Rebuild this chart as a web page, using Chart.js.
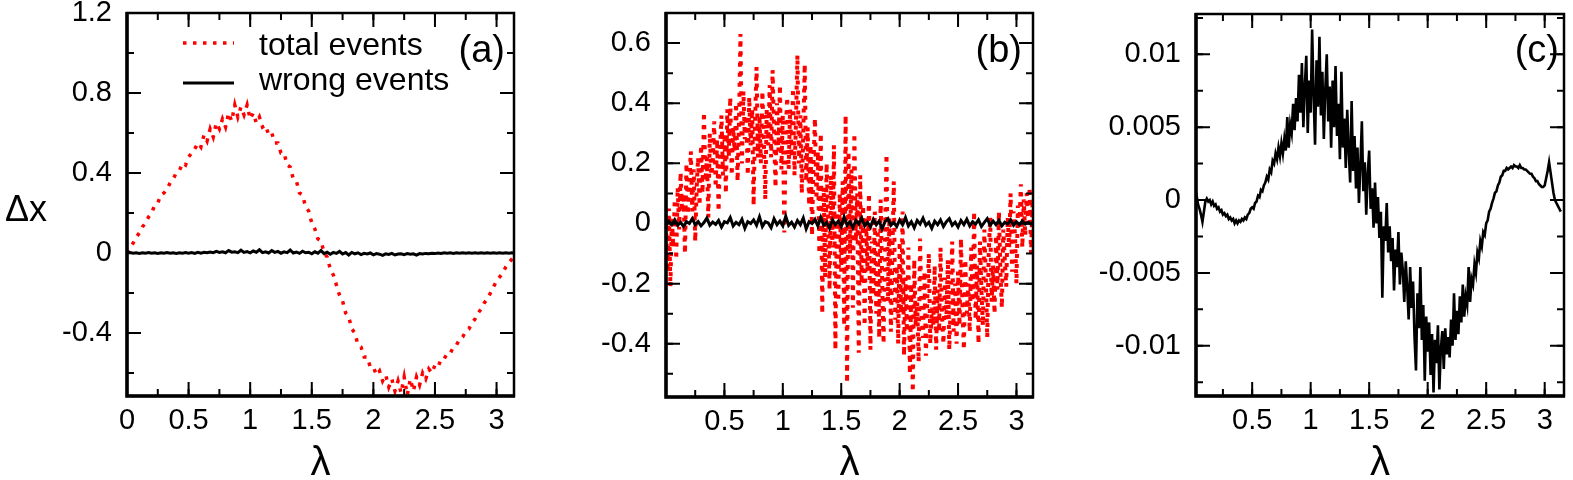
<!DOCTYPE html>
<html>
<head>
<meta charset="utf-8">
<script src="https://cdn.jsdelivr.net/npm/chart.js@4.4.1/dist/chart.umd.min.js"></script>
<style>
  html, body { margin: 0; padding: 0; background: #fff; }
  #wrap { position: relative; width: 1573px; height: 480px; overflow: hidden; }
  canvas { position: absolute; top: 0; }
</style>
</head>
<body>
<div id="wrap">
  <canvas id="chartA" width="530" height="480" style="left:0px"></canvas>
  <canvas id="chartB" width="520" height="480" style="left:530px"></canvas>
  <canvas id="chartC" width="523" height="480" style="left:1050px"></canvas>
</div>
<script>
/* =====================================
   DATA
===================================== */

// coarse lambda grid (step 0.025)
const lam = [
  0, 0.025, 0.05, 0.075, 0.1, 0.125, 0.15, 0.175, 0.2, 0.225,
  0.25, 0.275, 0.3, 0.325, 0.35, 0.375, 0.4, 0.425, 0.45, 0.475,
  0.5, 0.525, 0.55, 0.575, 0.6, 0.625, 0.65, 0.675, 0.7, 0.725,
  0.75, 0.775, 0.8, 0.825, 0.85, 0.875, 0.9, 0.925, 0.95, 0.975,
  1.0, 1.025, 1.05, 1.075, 1.1, 1.125, 1.15, 1.175, 1.2, 1.225,
  1.25, 1.275, 1.3, 1.325, 1.35, 1.375, 1.4, 1.425, 1.45, 1.475,
  1.5, 1.525, 1.55, 1.575, 1.6, 1.625, 1.65, 1.675, 1.7, 1.725,
  1.75, 1.775, 1.8, 1.825, 1.85, 1.875, 1.9, 1.925, 1.95, 1.975,
  2.0, 2.025, 2.05, 2.075, 2.1, 2.125, 2.15, 2.175, 2.2, 2.225,
  2.25, 2.275, 2.3, 2.325, 2.35, 2.375, 2.4, 2.425, 2.45, 2.475,
  2.5, 2.525, 2.55, 2.575, 2.6, 2.625, 2.65, 2.675, 2.7, 2.725,
  2.75, 2.775, 2.8, 2.825, 2.85, 2.875, 2.9, 2.925, 2.95, 2.975,
  3.0, 3.025, 3.05, 3.075, 3.1, 3.125, 3.14
];

// fine lambda grid (step 0.0125) for the noisiest curves
const lamFine = [
  0, 0.0125, 0.025, 0.0375, 0.05, 0.0625, 0.075, 0.0875,
  0.1, 0.1125, 0.125, 0.1375, 0.15, 0.1625, 0.175, 0.1875,
  0.2, 0.2125, 0.225, 0.2375, 0.25, 0.2625, 0.275, 0.2875,
  0.3, 0.3125, 0.325, 0.3375, 0.35, 0.3625, 0.375, 0.3875,
  0.4, 0.4125, 0.425, 0.4375, 0.45, 0.4625, 0.475, 0.4875,
  0.5, 0.5125, 0.525, 0.5375, 0.55, 0.5625, 0.575, 0.5875,
  0.6, 0.6125, 0.625, 0.6375, 0.65, 0.6625, 0.675, 0.6875,
  0.7, 0.7125, 0.725, 0.7375, 0.75, 0.7625, 0.775, 0.7875,
  0.8, 0.8125, 0.825, 0.8375, 0.85, 0.8625, 0.875, 0.8875,
  0.9, 0.9125, 0.925, 0.9375, 0.95, 0.9625, 0.975, 0.9875,
  1.0, 1.0125, 1.025, 1.0375, 1.05, 1.0625, 1.075, 1.0875,
  1.1, 1.1125, 1.125, 1.1375, 1.15, 1.1625, 1.175, 1.1875,
  1.2, 1.2125, 1.225, 1.2375, 1.25, 1.2625, 1.275, 1.2875,
  1.3, 1.3125, 1.325, 1.3375, 1.35, 1.3625, 1.375, 1.3875,
  1.4, 1.4125, 1.425, 1.4375, 1.45, 1.4625, 1.475, 1.4875,
  1.5, 1.5125, 1.525, 1.5375, 1.55, 1.5625, 1.575, 1.5875,
  1.6, 1.6125, 1.625, 1.6375, 1.65, 1.6625, 1.675, 1.6875,
  1.7, 1.7125, 1.725, 1.7375, 1.75, 1.7625, 1.775, 1.7875,
  1.8, 1.8125, 1.825, 1.8375, 1.85, 1.8625, 1.875, 1.8875,
  1.9, 1.9125, 1.925, 1.9375, 1.95, 1.9625, 1.975, 1.9875,
  2.0, 2.0125, 2.025, 2.0375, 2.05, 2.0625, 2.075, 2.0875,
  2.1, 2.1125, 2.125, 2.1375, 2.15, 2.1625, 2.175, 2.1875,
  2.2, 2.2125, 2.225, 2.2375, 2.25, 2.2625, 2.275, 2.2875,
  2.3, 2.3125, 2.325, 2.3375, 2.35, 2.3625, 2.375, 2.3875,
  2.4, 2.4125, 2.425, 2.4375, 2.45, 2.4625, 2.475, 2.4875,
  2.5, 2.5125, 2.525, 2.5375, 2.55, 2.5625, 2.575, 2.5875,
  2.6, 2.6125, 2.625, 2.6375, 2.65, 2.6625, 2.675, 2.6875,
  2.7, 2.7125, 2.725, 2.7375, 2.75, 2.7625, 2.775, 2.7875,
  2.8, 2.8125, 2.825, 2.8375, 2.85, 2.8625, 2.875, 2.8875,
  2.9, 2.9125, 2.925, 2.9375, 2.95, 2.9625, 2.975, 2.9875,
  3.0, 3.0125, 3.025, 3.0375, 3.05, 3.0625, 3.075, 3.0875,
  3.1, 3.1125, 3.125, 3.1375
];

// panel (a), on lam
const aTotal = [
  0.00, 0.02, 0.05, 0.08, 0.10, 0.13, 0.15, 0.18, 0.20, 0.24,
  0.25, 0.29, 0.30, 0.32, 0.35, 0.37, 0.40, 0.41, 0.45, 0.44,
  0.48, 0.50, 0.52, 0.55, 0.53, 0.59, 0.56, 0.62, 0.58, 0.65,
  0.62, 0.67, 0.63, 0.70, 0.66, 0.74, 0.68, 0.73, 0.69, 0.74,
  0.67, 0.70, 0.65, 0.68, 0.63, 0.64, 0.59, 0.60, 0.55, 0.55,
  0.50, 0.50, 0.44, 0.43, 0.37, 0.36, 0.30, 0.29, 0.23, 0.21,
  0.15, 0.12, 0.07, 0.06, 0.00, -0.02, -0.08, -0.11, -0.16, -0.21,
  -0.24, -0.30, -0.32, -0.38, -0.40, -0.46, -0.47, -0.52, -0.52, -0.57,
  -0.57, -0.61, -0.59, -0.64, -0.61, -0.67, -0.63, -0.69, -0.64, -0.70,
  -0.62, -0.71, -0.63, -0.69, -0.62, -0.66, -0.60, -0.63, -0.58, -0.60,
  -0.56, -0.57, -0.53, -0.53, -0.50, -0.50, -0.47, -0.46, -0.43, -0.42,
  -0.39, -0.38, -0.35, -0.33, -0.30, -0.28, -0.25, -0.23, -0.20, -0.17,
  -0.14, -0.12, -0.10, -0.07, -0.05, -0.03, -0.02
];
const aWrong = [
  0.000, 0.002, -0.001, 0.001, -0.002, 0.001, -0.001, 0.002, -0.001, 0.001,
  -0.002, 0.001, -0.001, 0.002, -0.001, 0.001, -0.002, 0.001, -0.001, 0.002,
  -0.001, 0.002, -0.002, 0.003, -0.001, 0.004, 0.001, 0.005, 0.002, 0.008,
  0.003, 0.006, 0.001, 0.012, 0.004, 0.006, 0.002, 0.014, 0.003, 0.007,
  0.001, 0.010, 0.004, 0.016, 0.002, 0.006, 0.000, 0.012, 0.003, 0.008,
  -0.001, 0.006, 0.002, 0.015, 0.000, 0.005, -0.002, 0.009, 0.001, 0.004,
  -0.004, 0.006, -0.001, 0.012, -0.003, 0.004, -0.006, 0.003, -0.002, 0.008,
  -0.005, 0.002, -0.010, 0.003, -0.004, 0.001, -0.008, -0.002, -0.005, 0.000,
  -0.009, -0.003, -0.006, -0.012, -0.004, -0.007, -0.002, -0.010, -0.005, -0.004,
  -0.008, -0.003, -0.006, -0.004, -0.011, -0.003, -0.005, -0.002, -0.004, -0.001,
  -0.003, 0.000, -0.002, 0.001, -0.001, 0.001, -0.002, 0.001, -0.001, 0.001,
  -0.001, 0.001, -0.001, 0.001, -0.001, 0.001, -0.001, 0.001, -0.001, 0.001,
  -0.001, 0.001, -0.001, 0.001, -0.001, 0.001, 0.000
];

// panel (b): total on lamFine, wrong on lam
const bTotal = [
  0.00, -0.16, 0.05, -0.21, 0.02, -0.08, 0.08, -0.12,
  0.12, -0.02, 0.17, 0.04, 0.10, -0.10, 0.20, 0.03,
  0.14, 0.24, 0.04, 0.18, -0.06, 0.12, 0.22, 0.06,
  0.26, 0.10, 0.37, 0.14, 0.22, 0.02, 0.30, 0.16,
  0.20, 0.34, 0.12, 0.28, 0.04, 0.24, 0.36, 0.16,
  0.30, 0.10, 0.38, 0.22, 0.42, 0.16, 0.32, 0.24,
  0.40, 0.14, 0.34, 0.63, 0.20, 0.44, 0.28, 0.36,
  0.16, 0.42, 0.26, 0.38, 0.06, 0.34, 0.52, 0.22,
  0.36, 0.20, 0.44, 0.28, 0.08, 0.38, 0.26, 0.46,
  0.22, 0.51, 0.30, 0.12, 0.40, 0.24, 0.46, 0.18,
  0.36, -0.03, 0.30, 0.42, 0.18, 0.38, 0.22, 0.45,
  0.16, 0.34, 0.56, 0.20, 0.36, 0.10, 0.30, 0.53,
  0.14, 0.32, 0.06, 0.26, -0.04, 0.20, 0.35, 0.08,
  0.24, -0.10, 0.30, -0.30, 0.12, -0.18, 0.20, 0.02,
  -0.22, 0.16, -0.08, 0.26, -0.42, 0.04, -0.26, 0.10,
  -0.16, 0.14, -0.34, 0.36, -0.53, 0.24, -0.10, 0.18,
  -0.28, 0.30, -0.06, 0.10, -0.43, 0.16, -0.20, 0.06,
  -0.34, 0.02, -0.16, 0.10, -0.42, -0.06, -0.24, 0.04,
  -0.30, -0.02, -0.38, 0.08, -0.18, -0.40, -0.04, 0.23,
  -0.26, 0.02, -0.36, -0.10, 0.14, -0.32, -0.14, -0.40,
  -0.06, -0.30, 0.04, -0.44, -0.18, -0.36, -0.08, -0.50,
  -0.20, -0.56, -0.12, -0.34, -0.26, -0.46, -0.05, -0.30,
  -0.38, -0.16, -0.44, -0.24, -0.10, -0.40, -0.28, -0.34,
  -0.14, -0.42, -0.22, -0.36, -0.08, -0.30, -0.40, -0.18,
  -0.32, -0.12, -0.42, -0.26, -0.06, -0.36, -0.20, -0.40,
  -0.16, -0.34, -0.05, -0.28, -0.42, -0.12, -0.30, -0.20,
  -0.36, -0.08, -0.26, 0.04, -0.32, -0.14, -0.40, -0.06,
  -0.22, -0.34, -0.02, -0.18, -0.38, -0.10, 0.02, -0.26,
  -0.14, -0.30, -0.04, -0.22, 0.04, -0.16, -0.28, -0.02,
  -0.12, -0.21, 0.02, -0.08, 0.10, -0.16, 0.04, -0.04,
  -0.20, 0.06, -0.02, 0.13, -0.08, 0.08, -0.04, 0.10,
  0.00, 0.12, -0.10, 0.08
];
const bWrong = [
  0.000, 0.008, -0.004, 0.012, -0.006, 0.004, -0.010, 0.006, 0.000, 0.016,
  -0.004, 0.006, -0.008, 0.003, 0.018, -0.006, 0.005, -0.003, 0.010, -0.012,
  0.006, 0.002, 0.020, -0.008, 0.004, -0.004, 0.014, -0.016, 0.006, 0.000,
  0.012, -0.006, 0.022, -0.010, 0.006, 0.002, -0.014, 0.016, -0.004, 0.008,
  -0.008, 0.024, -0.006, 0.004, -0.012, 0.010, -0.004, 0.018, -0.018, 0.006,
  0.000, 0.014, -0.008, 0.020, -0.006, 0.004, -0.016, 0.012, -0.004, 0.008,
  -0.010, 0.022, -0.006, 0.006, -0.014, 0.010, -0.002, 0.018, -0.008, 0.004,
  -0.012, 0.014, -0.004, 0.008, -0.018, 0.006, 0.016, -0.006, 0.004, -0.010,
  0.012, -0.004, 0.020, -0.008, 0.006, -0.014, 0.010, -0.002, 0.018, -0.006,
  0.004, -0.016, 0.008, -0.004, 0.012, -0.010, 0.006, 0.016, -0.006, 0.004,
  -0.012, 0.010, -0.004, 0.014, -0.008, 0.006, -0.002, 0.012, -0.010, 0.004,
  0.016, -0.006, 0.008, -0.004, 0.010, -0.008, 0.004, -0.002, 0.012, -0.006,
  0.006, -0.004, 0.008, -0.002, 0.004, -0.002, 0.000
];

// panel (c), on lamFine
const cWrong = [
  0.0012, 0.0008, 0.0003, -0.0003, -0.0006, -0.0010, -0.0015, -0.0008,
  -0.0001, 0.0001, -0.0001, 0.0000, -0.0003, -0.0001, -0.0004, -0.0003,
  -0.0006, -0.0005, -0.0008, -0.0007, -0.0010, -0.0009, -0.0011, -0.0010,
  -0.0013, -0.0012, -0.0014, -0.0013, -0.0016, -0.0014, -0.0016, -0.0014,
  -0.0015, -0.0013, -0.0014, -0.0012, -0.0013, -0.0010, -0.0009, -0.0006,
  -0.0005, -0.0006, -0.0002, -0.0001, 0.0003, 0.0002, 0.0007, 0.0006,
  0.0010, 0.0012, 0.0016, 0.0014, 0.0021, 0.0019, 0.0027, 0.0025,
  0.0032, 0.0028, 0.0036, 0.0030, 0.0039, 0.0032, 0.0042, 0.0034,
  0.0057, 0.0036, 0.0052, 0.0046, 0.0066, 0.0048, 0.0070, 0.0054,
  0.0086, 0.0060, 0.0094, 0.0050, 0.0078, 0.0099, 0.0046, 0.0082,
  0.0060, 0.0117, 0.0072, 0.0038, 0.0096, 0.0064, 0.0112, 0.0058,
  0.0088, 0.0042, 0.0076, 0.0100, 0.0054, 0.0078, 0.0036, 0.0082,
  0.0050, 0.0092, 0.0044, 0.0066, 0.0028, 0.0088, 0.0036, 0.0056,
  0.0022, 0.0062, 0.0034, 0.0012, 0.0068, 0.0020, 0.0044, 0.0008,
  0.0036, -0.0002, 0.0024, 0.0054, 0.0006, 0.0026, -0.0010, 0.0018,
  0.0034, -0.0006, 0.0008, -0.0019, 0.0012, -0.0016, 0.0002, -0.0026,
  -0.0008, -0.0067, -0.0018, -0.0028, -0.0002, -0.0036, -0.0018, -0.0042,
  -0.0026, -0.0062, -0.0034, -0.0046, -0.0022, -0.0058, -0.0036, -0.0048,
  -0.0070, -0.0042, -0.0060, -0.0082, -0.0046, -0.0074, -0.0056, -0.0094,
  -0.0117, -0.0064, -0.0088, -0.0046, -0.0096, -0.0072, -0.0124, -0.0080,
  -0.0104, -0.0084, -0.0120, -0.0092, -0.0132, -0.0096, -0.0112, -0.0086,
  -0.0130, -0.0102, -0.0090, -0.0116, -0.0088, -0.0106, -0.0094, -0.0108,
  -0.0082, -0.0100, -0.0064, -0.0096, -0.0076, -0.0092, -0.0066, -0.0084,
  -0.0058, -0.0080, -0.0066, -0.0072, -0.0046, -0.0070, -0.0054, -0.0058,
  -0.0044, -0.0050, -0.0036, -0.0040, -0.0028, -0.0032, -0.0022, -0.0024,
  -0.0016, -0.0014, -0.0008, -0.0006, -0.0002, 0.0001, 0.0005, 0.0006,
  0.0010, 0.0012, 0.0016, 0.0017, 0.0020, 0.0020, 0.0022, 0.0021,
  0.0022, 0.0023, 0.0022, 0.0024, 0.0023, 0.0023, 0.0022, 0.0024,
  0.0022, 0.0022, 0.0021, 0.0021, 0.0020, 0.0019, 0.0018, 0.0018,
  0.0016, 0.0015, 0.0013, 0.0013, 0.0011, 0.0010, 0.0009, 0.0009,
  0.0010, 0.0015, 0.0020, 0.0026, 0.0019, 0.0012, 0.0005, 0.0000,
  -0.0002, -0.0004, -0.0006, -0.0008
];

/* =====================================
   STYLE HELPERS
===================================== */

const FONT = '"Liberation Sans", Arial, Helvetica, sans-serif';
Chart.defaults.font.family = FONT;
Chart.defaults.color = "#000";

const RED = "#ff0000";

function pts(xs, ys){
    return xs.map((x, i) => ({ x:x, y:ys[i] }));
}

function tickText(v){
    if(Math.abs(v) < 1e-9) return "0";
    return String(+v.toFixed(4));
}

// box frame, inward major/minor ticks on all four sides, and text
const framePlugin = {

    id:"frame",

    afterDraw(chart, args, o){

        const ctx = chart.ctx;
        const a = chart.chartArea;
        const xs = chart.scales.x;
        const ys = chart.scales.y;

        ctx.save();
        ctx.strokeStyle = "#000";
        ctx.lineCap = "butt";
        ctx.lineWidth = 2;

        const eachStep = (scale, step, fn) => {
            const k0 = Math.ceil(scale.min / step - 1e-6);
            for(let k = k0; k * step <= scale.max + 1e-9; k++){
                fn(scale.getPixelForValue(k * step));
            }
        };

        const xTick = len => px => {
            ctx.beginPath();
            ctx.moveTo(px, a.bottom); ctx.lineTo(px, a.bottom - len);
            ctx.moveTo(px, a.top);    ctx.lineTo(px, a.top + len);
            ctx.stroke();
        };
        const yTick = len => py => {
            ctx.beginPath();
            ctx.moveTo(a.left, py);  ctx.lineTo(a.left + len, py);
            ctx.moveTo(a.right, py); ctx.lineTo(a.right - len, py);
            ctx.stroke();
        };

        eachStep(xs, o.xMinor, xTick(7));
        eachStep(xs, o.xMajor, xTick(14));
        eachStep(ys, o.yMinor, yTick(7));
        eachStep(ys, o.yMajor, yTick(14));

        // frame
        ctx.lineWidth = 2.5;
        ctx.strokeRect(a.left, a.top, a.right - a.left, a.bottom - a.top);
        ctx.lineWidth = 3.5;
        ctx.beginPath();
        ctx.moveTo(a.left, a.top - 1);
        ctx.lineTo(a.left, a.bottom);
        ctx.lineTo(a.right + 1, a.bottom);
        ctx.stroke();

        // panel tag
        ctx.fillStyle = "#000";
        ctx.font = "38px " + FONT;
        ctx.textAlign = "right";
        ctx.textBaseline = "alphabetic";
        ctx.fillText(o.tag, o.tagX, o.tagY);

        // x title
        ctx.font = "40px " + FONT;
        ctx.textAlign = "center";
        ctx.fillText("\u03bb", (a.left + a.right) / 2, 475);

        // y title
        if(o.yTitle){
            ctx.font = "36px " + FONT;
            ctx.textAlign = "left";
            ctx.fillText(o.yTitle, 5, 221);
        }

        // legend
        if(o.legend){
            const ds = chart.data.datasets;
            o.legend.forEach((idx, row) => {
                const d = ds[idx];
                const ly = 43 + row * 40;
                ctx.save();
                ctx.strokeStyle = d.borderColor;
                ctx.lineWidth = d.borderWidth;
                ctx.setLineDash(d.borderDash || []);
                ctx.beginPath();
                ctx.moveTo(183, ly);
                ctx.lineTo(234, ly);
                ctx.stroke();
                ctx.restore();
                ctx.font = "32px " + FONT;
                ctx.textAlign = "left";
                ctx.fillText(d.label, 259, 55 + row * 35);
            });
        }

        ctx.restore();
    }
};

function makePanel(id, box, datasets, axes, extra){

    return new Chart(document.getElementById(id),{

        type:"line",

        data:{ datasets:datasets },

        options:{

            responsive:false,
            animation:false,
            devicePixelRatio:1,
            events:[],

            layout:{
                padding:{ left:0, right:box.right, top:box.top, bottom:0 }
            },

            scales:{
                x:{
                    type:"linear",
                    min:axes.xMin,
                    max:axes.xMax,
                    grid:{ display:false, drawTicks:false },
                    border:{ display:false },
                    ticks:{
                        stepSize:0.5,
                        includeBounds:false,
                        autoSkip:false,
                        maxRotation:0,
                        padding:8,
                        font:{ size:29 },
                        callback:v => (axes.hideX0 && Math.abs(v) < 1e-9) ? "" : tickText(v)
                    },
                    afterFit:s => {
                        s.height = box.xh;
                        s.paddingLeft = 0; s.paddingRight = 0;
                    }
                },
                y:{
                    type:"linear",
                    min:axes.yMin,
                    max:axes.yMax,
                    grid:{ display:false, drawTicks:false },
                    border:{ display:false },
                    ticks:{
                        stepSize:axes.yStep,
                        includeBounds:false,
                        padding:15,
                        font:{ size:29 },
                        callback:v => tickText(v)
                    },
                    afterFit:s => {
                        s.width = box.yw;
                        s.paddingTop = 0; s.paddingBottom = 0;
                    }
                }
            },

            plugins:{
                legend:{ display:false },
                tooltip:{ enabled:false },
                frame:extra
            }
        },

        plugins:[framePlugin]
    });
}

const totalStyle = {
    borderColor:RED,
    borderWidth:3.5,
    borderDash:[3.5, 6.5],
    borderCapStyle:"butt",
    pointRadius:0,
    tension:0,
    clip:0,
    order:1
};
const wrongStyle = {
    borderColor:"#000",
    borderWidth:3,
    pointRadius:0,
    tension:0,
    clip:0,
    order:0
};

/* ==========================
   PANEL (a)
========================== */

makePanel("chartA",
    { yw:127, right:16, top:13, xh:84 },
    [
        Object.assign({ label:"total events", data:pts(lam, aTotal) }, totalStyle),
        Object.assign({ label:"wrong events", data:pts(lam, aWrong) }, wrongStyle)
    ],
    { xMin:0, xMax:Math.PI, yMin:-0.715, yMax:1.2, yStep:0.4 },
    { tag:"(a)", tagX:505, tagY:62, yTitle:"\u0394x", legend:[0, 1],
      xMajor:0.5, xMinor:0.25, yMajor:0.4, yMinor:0.2 }
);

/* ==========================
   PANEL (b)
========================== */

makePanel("chartB",
    { yw:136, right:17, top:13, xh:83 },
    [
        Object.assign({ label:"total events", data:pts(lamFine, bTotal) }, totalStyle,
            { borderWidth:4, borderDash:[4, 6] }),
        Object.assign({ label:"wrong events", data:pts(lam, bWrong) }, wrongStyle)
    ],
    { xMin:0, xMax:Math.PI, yMin:-0.577, yMax:0.7, yStep:0.2, hideX0:true },
    { tag:"(b)", tagX:492, tagY:62,
      xMajor:0.5, xMinor:0.25, yMajor:0.2, yMinor:0.1 }
);

/* ==========================
   PANEL (c)
========================== */

makePanel("chartC",
    { yw:146, right:9, top:14, xh:84 },
    [
        Object.assign({ label:"wrong events", data:pts(lamFine, cWrong) }, wrongStyle, { borderWidth:2.6 })
    ],
    { xMin:0.02, xMax:3.165, yMin:-0.01345, yMax:0.01277, yStep:0.005 },
    { tag:"(c)", tagX:509, tagY:62,
      xMajor:0.5, xMinor:0.25, yMajor:0.005, yMinor:0.0025 }
);
</script>
</body>
</html>
